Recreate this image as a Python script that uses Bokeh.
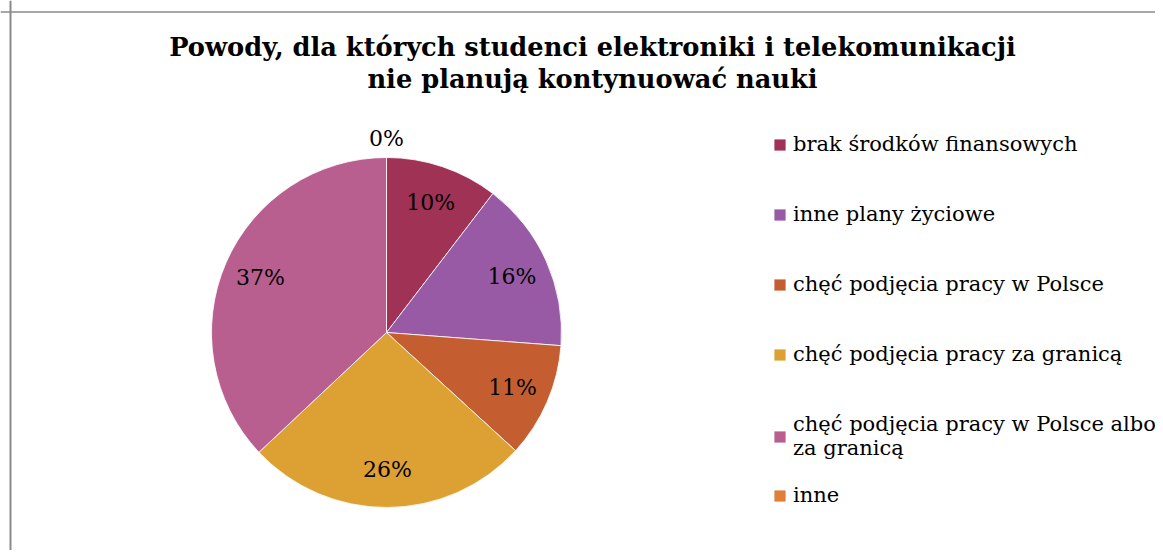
import numpy as np
from bokeh.plotting import figure
from bokeh.models import ColumnDataSource, Range1d, Legend, LegendItem, Label, Span
from bokeh.core.properties import value
from bokeh.embed import file_html
from bokeh.resources import INLINE

# ---- data ----
categories = [
    "brak środków finansowych",
    "inne plany życiowe",
    "chęć podjęcia pracy w Polsce",
    "chęć podjęcia pracy za granicą",
    "chęć podjęcia pracy w Polsce albo\nza granicą",
    "inne",
]
shares = [10.4, 15.8, 10.6, 26.2, 37.0, 0.0]
colors = ["#A03256", "#995AA5", "#C45E30", "#DCA132", "#B85F8F", "#E08038"]
title_text = "Powody, dla których studenci elektroniki i telekomunikacji\nnie planują kontynuować nauki"

FONT = "DejaVu Serif"

W, H = 1155, 550
p = figure(width=W, height=H, output_backend="svg", toolbar_location=None,
           x_range=Range1d(0, W), y_range=Range1d(-H, 0),
           min_border_left=0, min_border_right=0, min_border_bottom=0, min_border_top=0)
p.axis.visible = False
p.grid.visible = False
p.outline_line_color = None
p.background_fill_color = "white"
p.border_fill_color = "white"

# chart-area border (left and top edges visible)
p.add_layout(Span(location=10, dimension="height", line_color="#8A8A8A", line_width=2))
p.add_layout(Span(location=-11.5, dimension="width", line_color="#8A8A8A", line_width=1.5))

cx, cy, r = 386, -332, 175
vals = np.array(shares, dtype=float)
frac = vals / vals.sum()
c1 = np.cumsum(frac)
c0 = c1 - frac
start = np.pi / 2 - 2 * np.pi * c0
end = np.pi / 2 - 2 * np.pi * c1
mid = (start + end) / 2

renderers = []
for i in range(len(categories)):
    # a zero share gets no visible wedge (zero radius), but keeps its legend entry
    rad = r if vals[i] > 0 else 0.0
    s = ColumnDataSource(dict(x=[cx], y=[cy], start=[start[i]], end=[end[i]], rad=[rad]))
    rr = p.wedge(x="x", y="y", radius="rad", start_angle="start", end_angle="end",
                 direction="clock", source=s, fill_color=colors[i],
                 line_color="white", line_width=0.8)
    renderers.append(rr)

# data labels
lab_r = np.where(vals > 0, 0.785 * r, 1.11 * r)
lx = cx + lab_r * np.cos(mid)
ly = cy + lab_r * np.sin(mid)
ltxt = [f"{int(round(v))}%" for v in shares]
p.text(x=lx, y=ly, text=ltxt, text_font=value(FONT), text_font_size="22px",
       text_align="center", text_baseline="middle", text_color="black")

# title
p.add_layout(Label(x=592, y=-31.5, text=title_text, text_align="center",
                   text_baseline="top", text_font=FONT, text_font_size="25.7px",
                   text_font_style="bold", text_color="black", text_line_height=1.07))

common = dict(glyph_width=15, glyph_height=15, label_standoff=6,
              label_text_font=FONT, label_text_font_size="21px",
              label_text_line_height=1.0,
              label_text_color="black", padding=0, margin=0,
              border_line_alpha=0, background_fill_alpha=0)
leg1 = Legend(items=[LegendItem(label=categories[i], renderers=[renderers[i]]) for i in range(5)],
              location=(772, 90), label_height=24, spacing=46, **common)
leg2 = Legend(items=[LegendItem(label=categories[5], renderers=[renderers[5]])],
              location=(772, 43), label_height=24, spacing=46, **common)
p.add_layout(leg1)
p.add_layout(leg2)

open("out.html", "w").write(file_html(p, INLINE))
